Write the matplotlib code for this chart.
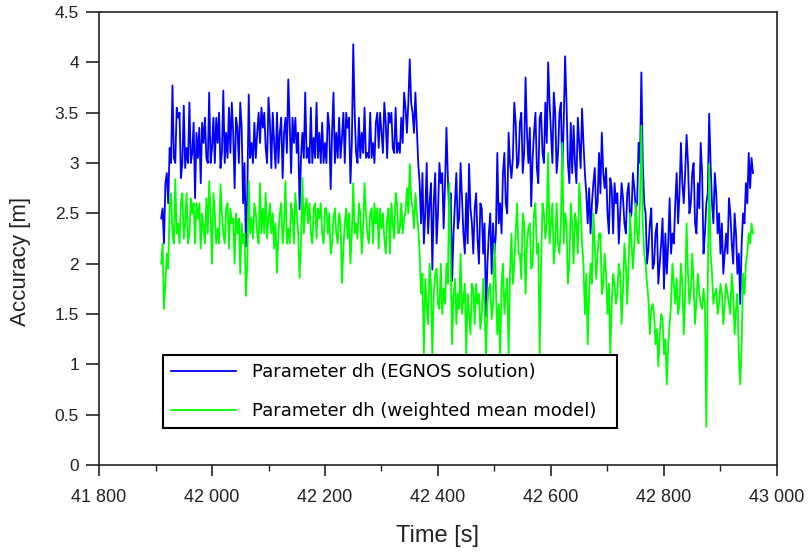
import matplotlib
matplotlib.use("Agg")
import matplotlib.pyplot as plt
import numpy as np
from matplotlib.ticker import FuncFormatter, MultipleLocator


# samples every 2.5 s: "on" = 41910, 41915, ...; "mid" = 41912.5, 41917.5, ...
time_s = np.arange(41910, 42960, 2.5)

egnos_on = [
    2.45, 2.2, 2.9, 3.15, 3.77, 3.0, 3.45, 2.85, 3.57, 3.15,
    3.6, 3.1, 2.65, 3.05, 2.8, 3.2, 3.05, 3.7, 3.15, 3.0,
    3.2, 2.95, 3.72, 3.3, 3.55, 3.6, 2.75, 3.35, 3.6, 2.6,
    2.17, 3.68, 3.2, 3.4, 3.3, 3.2, 3.35, 3.15, 3.65, 2.95,
    3.2, 3.5, 3.3, 2.85, 3.45, 3.83, 2.9, 3.2, 3.1, 2.54,
    3.3, 3.7, 3.15, 3.55, 3.25, 3.6, 3.3, 3.4, 3.2, 3.5,
    2.74, 3.7, 3.3, 3.45, 3.25, 3.0, 3.35, 2.8, 4.18, 3.1,
    3.45, 3.3, 3.55, 3.1, 3.5, 3.2, 3.4, 3.15, 3.3, 3.6,
    3.05, 3.4, 3.15, 3.55, 3.2, 3.45, 3.7, 3.3, 4.03, 3.5,
    3.7, 3.0, 2.4, 2.2, 3.0, 2.6, 1.94, 2.9, 2.5, 2.8,
    2.35, 3.35, 2.5, 1.83, 2.6, 2.35, 3.0, 2.3, 2.7, 2.99,
    2.4, 2.55, 2.25, 2.6, 2.1, 1.48, 2.3, 1.9, 2.1, 3.1,
    2.6, 2.9, 2.6, 3.3, 2.85, 3.6, 2.95, 3.4, 2.9, 3.85,
    3.0, 2.57, 3.3, 2.95, 3.45, 3.1, 3.6, 4.0, 3.3, 3.7,
    2.9, 3.5, 2.9, 4.06, 3.0, 3.4, 3.37, 2.8, 3.2, 3.54,
    2.9, 2.4, 2.3, 2.8, 2.5, 3.1, 3.3, 2.75, 2.5, 2.85,
    2.3, 2.6, 2.2, 2.8, 2.4, 2.7, 2.45, 2.9, 2.55, 3.2,
    3.9, 2.6, 2.0, 2.4, 1.95, 2.3, 1.8, 2.2, 1.75, 1.9,
    2.65, 2.3, 2.6, 2.4, 3.2, 2.6, 3.28, 2.5, 2.9, 2.4,
    2.8, 3.2, 2.1, 2.6, 3.49, 2.6, 2.9, 2.3, 2.1, 1.9,
    2.3, 2.65, 2.2, 2.5, 1.9, 1.6, 2.5, 2.8, 3.1, 3.05,
]
egnos_mid = [
    2.55, 2.8, 2.6, 3.0, 3.05, 3.55, 3.5, 3.0, 2.95, 3.0,
    3.0, 3.4, 3.3, 3.35, 3.4, 3.45, 3.0, 3.0, 3.45, 3.45,
    3.5, 3.1, 3.0, 3.05, 3.1, 3.3, 3.45, 3.0, 3.35, 3.0,
    2.7, 3.05, 3.0, 3.05, 3.5, 3.55, 3.5, 3.0, 3.4, 3.5,
    2.95, 3.0, 3.45, 3.3, 3.1, 3.4, 3.45, 3.45, 3.3, 3.05,
    3.05, 3.05, 3.0, 3.0, 3.05, 3.05, 3.0, 3.0, 3.0, 3.35,
    3.3, 3.0, 3.05, 3.05, 3.5, 3.5, 3.45, 3.2, 3.5, 3.0,
    3.05, 3.1, 3.05, 3.05, 3.05, 3.0, 3.5, 3.5, 3.1, 3.4,
    3.5, 3.5, 3.1, 3.1, 3.1, 3.2, 3.55, 3.6, 3.6, 3.3,
    3.35, 2.8, 2.9, 2.5, 2.3, 2.8, 2.6, 2.2, 3.0, 2.9,
    2.8, 2.85, 2.7, 2.3, 2.9, 2.45, 2.65, 2.1, 2.2, 2.55,
    2.1, 2.7, 2.0, 2.55, 2.4, 2.0, 2.5, 2.4, 2.3, 2.4,
    2.3, 3.1, 2.5, 3.0, 3.05, 3.4, 3.0, 3.5, 3.1, 3.3,
    3.35, 3.05, 3.5, 2.8, 3.5, 3.0, 3.2, 3.6, 3.0, 3.5,
    3.1, 3.6, 3.4, 3.6, 2.8, 2.9, 3.0, 3.45, 2.95, 3.2,
    2.7, 2.75, 2.6, 2.95, 2.6, 2.7, 2.9, 2.95, 2.3, 2.75,
    2.8, 2.7, 2.5, 2.65, 2.3, 2.8, 2.5, 2.75, 2.6, 3.0,
    3.0, 2.5, 2.15, 2.55, 2.0, 2.4, 2.0, 2.45, 2.3, 2.2,
    2.1, 2.2, 2.9, 2.7, 2.8, 2.9, 3.0, 2.6, 3.0, 2.3,
    2.55, 2.9, 2.3, 2.7, 3.0, 2.4, 2.7, 2.5, 2.4, 2.1,
    2.1, 2.5, 2.0, 2.3, 2.1, 2.2, 2.4, 2.6, 2.75, 2.9,
]

weighted_on = [
    2.0, 1.55, 2.1, 2.6, 2.3, 2.84, 2.4, 2.6, 2.25, 2.7,
    2.3, 2.5, 2.2, 2.45, 2.15, 2.35, 2.65, 2.82, 2.0, 2.5,
    2.35, 2.79, 2.3, 2.55, 2.15, 2.4, 2.0, 2.3, 1.9, 2.2,
    1.68, 2.82, 2.45, 2.6, 2.3, 2.8, 2.55, 2.7, 2.45, 2.3,
    2.15, 1.91, 2.5, 2.2, 2.82, 2.35, 2.6, 2.2, 2.5, 1.86,
    2.85, 2.55, 2.4, 2.3, 2.55, 2.25, 2.45, 2.3, 2.55, 2.3,
    2.1, 2.45, 2.3, 2.5, 1.81, 2.4, 2.25, 2.0, 2.8, 2.4,
    2.6, 2.1, 2.8, 2.3, 2.5, 2.2, 2.4, 2.15, 2.35, 2.25,
    2.45, 2.1, 2.4, 2.7, 2.3, 2.6, 2.45, 2.75, 2.99, 2.55,
    2.7, 2.35, 1.7, 1.11, 1.6, 2.0, 1.1, 1.9, 1.6, 2.0,
    1.75, 2.0, 2.8, 1.2, 1.85, 1.7, 2.1, 1.65, 1.1, 1.5,
    1.8, 1.4, 1.6, 1.35, 1.85, 1.08, 1.75, 1.45, 2.2, 1.3,
    1.08, 2.0, 1.7, 1.08, 2.3, 2.0, 2.6, 2.1, 2.5, 1.7,
    2.35, 1.95, 2.5, 2.1, 1.1, 2.6, 2.25, 3.1, 2.4, 2.0,
    2.6, 2.1, 3.2, 2.5, 1.8, 2.6, 2.0, 2.4, 2.8, 2.2,
    1.5, 1.2, 2.0, 2.5, 1.85, 2.3, 1.7, 2.1, 1.5, 1.1,
    1.9, 1.6, 2.0, 1.4, 2.2, 1.6, 2.5, 1.95, 2.6, 2.2,
    3.37, 2.1, 1.8, 1.3, 1.6, 1.2, 0.98, 1.5, 1.1, 0.8,
    1.4, 2.0, 1.6, 1.5, 2.0, 1.3, 2.4, 1.6, 2.1, 1.4,
    1.9, 1.6, 1.75, 0.38, 2.99, 1.9, 1.7, 1.5, 1.8, 1.4,
    1.8, 1.6, 1.9, 1.3, 1.7, 0.8, 1.9, 2.0, 2.3, 2.4,
]
weighted_mid = [
    2.2, 1.8, 1.95, 2.7, 2.2, 2.3, 2.2, 2.7, 2.4, 2.2,
    2.65, 2.6, 2.6, 2.6, 2.5, 2.2, 2.3, 2.5, 2.7, 2.2,
    2.2, 2.5, 2.2, 2.6, 2.55, 2.45, 2.5, 2.45, 2.4, 2.3,
    2.0, 2.3, 2.25, 2.5, 2.2, 2.3, 2.3, 2.25, 2.6, 2.5,
    2.4, 2.3, 2.6, 2.4, 2.2, 2.2, 2.5, 2.7, 2.3, 2.2,
    2.3, 2.65, 2.6, 2.2, 2.6, 2.55, 2.6, 2.2, 2.55, 2.5,
    2.2, 2.55, 2.2, 2.4, 2.15, 2.55, 2.5, 2.3, 2.3, 2.25,
    2.5, 2.35, 2.5, 2.2, 2.55, 2.6, 2.55, 2.55, 2.5, 2.1,
    2.55, 2.6, 2.25, 2.6, 2.35, 2.3, 2.5, 2.5, 2.65, 2.35,
    2.5, 2.1, 1.9, 1.85, 1.4, 1.8, 1.7, 1.95, 1.55, 1.5,
    1.6, 1.8, 2.0, 1.7, 1.4, 1.55, 1.5, 1.8, 1.7, 1.3,
    1.75, 1.8, 1.7, 1.5, 1.55, 1.6, 1.8, 1.6, 1.75, 1.6,
    1.8, 1.5, 1.85, 1.9, 1.8, 2.3, 2.1, 1.85, 2.4, 2.2,
    2.4, 2.0, 2.6, 2.2, 2.0, 2.5, 2.4, 2.2, 2.6, 2.2,
    2.2, 2.4, 2.2, 2.4, 2.0, 2.4, 2.5, 2.1, 2.55, 2.0,
    1.9, 1.7, 1.8, 2.2, 2.1, 2.3, 1.8, 1.9, 1.8, 1.6,
    1.8, 1.7, 1.9, 1.75, 2.0, 2.0, 2.2, 2.2, 2.3, 2.6,
    2.4, 2.0, 1.65, 1.55, 1.5, 1.35, 1.3, 1.45, 1.25, 1.2,
    1.6, 1.8, 1.85, 1.6, 1.8, 1.7, 1.9, 1.75, 1.8, 1.65,
    1.7, 1.55, 1.6, 1.8, 2.1, 1.6, 1.75, 1.6, 1.7, 1.6,
    1.7, 1.5, 1.7, 1.55, 1.1, 1.2, 1.7, 2.1, 2.2, 2.3,
]

labels = ["Parameter dh (EGNOS solution)", "Parameter dh (weighted mean model)"]


def interleave(on, mid):
    out = np.empty(len(on) + len(mid))
    out[0::2] = on
    out[1::2] = mid
    return out


def thousands(v, pos):
    return f"{int(v):,}".replace(",", " ")


dh_egnos = interleave(egnos_on, egnos_mid)
dh_weighted = interleave(weighted_on, weighted_mid)

plt.rcParams["font.family"] = ["Liberation Sans", "DejaVu Sans"]

fig = plt.figure(figsize=(8.09, 5.54), dpi=100)
ax = fig.add_axes([0.1224, 0.1606, 0.838, 0.8177])

ax.plot(time_s, dh_egnos, color="#0000ff", linewidth=1.3, label=labels[0])
ax.plot(time_s, dh_weighted, color="#00ff00", linewidth=1.3, label=labels[1])

ax.set_xlim(41800, 43000)
ax.set_ylim(0, 4.5)
ax.xaxis.set_major_locator(MultipleLocator(200))
ax.xaxis.set_minor_locator(MultipleLocator(100))
ax.yaxis.set_major_locator(MultipleLocator(0.5))
ax.xaxis.set_major_formatter(FuncFormatter(thousands))
ax.yaxis.set_major_formatter(FuncFormatter(lambda v, p: f"{v:g}"))

ax.tick_params(axis="x", which="major", length=8, width=1.2, labelsize=13, pad=9, colors="#222222")
ax.tick_params(axis="x", which="minor", length=4, width=1.0, colors="#222222")
ax.tick_params(axis="y", which="major", length=9.5, width=1.2, labelsize=12.5, pad=5, colors="#222222")
for sp in ax.spines.values():
    sp.set_linewidth(1.2)
    sp.set_color("#222222")

ax.set_xlabel("Time [s]", fontsize=17, labelpad=14, color="#222222")
ax.set_ylabel("Accuracy [m]", fontsize=16, color="#222222")
ax.yaxis.set_label_coords(-0.1, 0.45)

leg = ax.legend(
    loc="lower left",
    bbox_to_anchor=(0.094, 0.081, 0.67, 0.16),
    mode="expand",
    borderaxespad=0,
    fancybox=False,
    framealpha=1,
    edgecolor="black",
    handlelength=3.6,
    handletextpad=0.9,
    borderpad=0.45,
    labelspacing=1.15,
    prop={"family": "DejaVu Sans", "size": 13},
)
leg.get_frame().set_linewidth(1.5)

fig.savefig("out.png", dpi=100)
